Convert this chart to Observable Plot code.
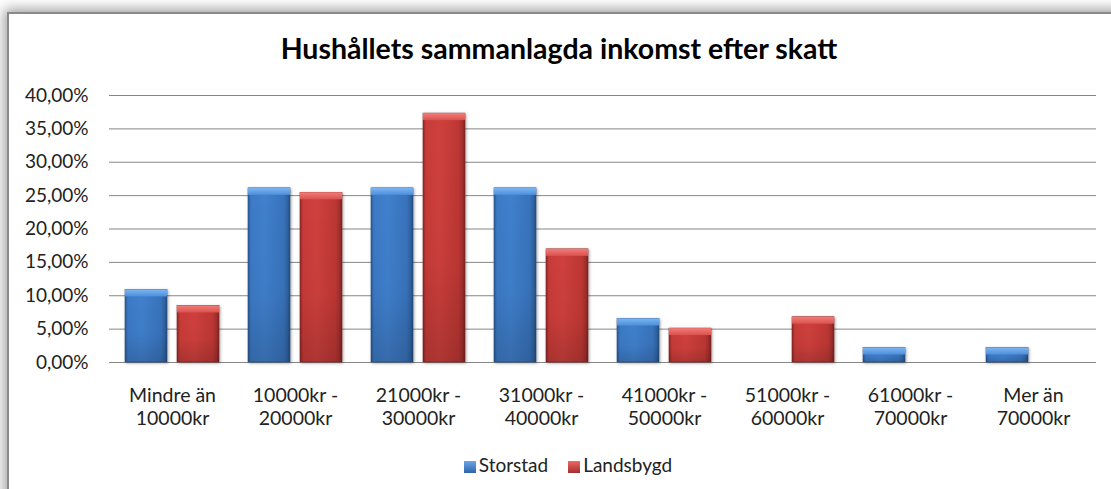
<!DOCTYPE html>
<html>
<head>
<meta charset="utf-8">
<script src="https://cdn.jsdelivr.net/npm/d3@7"></script>
<script src="https://cdn.jsdelivr.net/npm/@observablehq/plot@0.6"></script>
<style>
  html, body { margin: 0; padding: 0; width: 1111px; height: 489px; overflow: hidden; background: #ffffff; }
  #frame { position: absolute; left: 7px; top: 12px; width: 1130px; height: 500px; background: #fff;
           border-left: 2px solid #8a8a8a; border-top: 2px solid #8a8a8a;
           box-shadow: 0 0 12px 3px rgba(0,0,0,0.38); }
  #title { position: absolute; left: 0; top: 31px; width: 1118px; text-align: center;
           font-family: Lato, "Open Sans", sans-serif; font-weight: 700; font-size: 28.5px; color: #000; }
  #chart { position: absolute; left: 0; top: 80px; }
  #legend { position: absolute; left: 0; top: 453px; width: 1136px; text-align: center;
            font-family: Lato, "Open Sans", sans-serif; font-size: 19px; color: #222; }
  .item { display: inline-block; margin: 0 10px; }
  .sw { display: inline-block; width: 12px; height: 12px; margin-right: 3px; vertical-align: -1px; }
</style>
</head>
<body>
<div id="frame"></div>
<div id="title">Hushållets sammanlagda inkomst efter skatt</div>
<div id="chart"></div>
<div id="legend"></div>
<script>
const categories = [
  "Mindre än\n10000kr", "10000kr -\n20000kr", "21000kr -\n30000kr", "31000kr -\n40000kr",
  "41000kr -\n50000kr", "51000kr -\n60000kr", "61000kr -\n70000kr", "Mer än\n70000kr"
];
const series = ["Storstad", "Landsbygd"];
const storstad = [10.87, 26.09, 26.09, 26.09, 6.52, 0, 2.17, 2.17];
const landsbygd = [8.47, 25.42, 37.29, 16.95, 5.08, 6.78, 0, 0];
const yTicks = [0, 5, 10, 15, 20, 25, 30, 35, 40];

const rows = [];
categories.forEach((c, i) => {
  rows.push({cat: c, series: series[0], value: storstad[i]});
  rows.push({cat: c, series: series[1], value: landsbygd[i]});
});
const blueRows = rows.filter(d => d.series === "Storstad" && d.value > 0);
const redRows = rows.filter(d => d.series === "Landsbygd" && d.value > 0);

const fmt = d => d.toFixed(2).replace(".", ",") + "%";

const plot = Plot.plot({
  width: 1111,
  height: 360,
  marginLeft: 109,
  marginRight: 15,
  marginTop: 15,
  marginBottom: 78,
  style: {fontFamily: "Lato, 'Open Sans', sans-serif", fontSize: "19px", color: "#222", background: "transparent"},
  x: {domain: categories, paddingInner: 0.238, paddingOuter: 0.119, label: null},
  y: {domain: [0, 40], label: null},
  marks: [
    Plot.gridY(yTicks, {stroke: "#868686", strokeOpacity: 1, strokeWidth: 1}),
    Plot.axisY(yTicks, {tickSize: 0, tickPadding: 21, tickFormat: fmt, fontSize: 19, fill: "#222", label: null}),
    Plot.axisX({tickSize: 0, tickPadding: 24, fontSize: 19.5, lineHeight: 1.15, fill: "#222", tickFormat: d => d, label: null}),
    Plot.barY(blueRows, {x: "cat", y: "value", insetRight: 52, fill: "url(#gBlue)", stroke: "#2a568c", strokeWidth: 0.6, className: "bars"}),
    Plot.barY(redRows, {x: "cat", y: "value", insetLeft: 52, fill: "url(#gRed)", stroke: "#8a2725", strokeWidth: 0.6, className: "bars"}),
    Plot.barY(blueRows, {x: "cat", y: "value", insetRight: 52, fill: "url(#shade)"}),
    Plot.barY(redRows, {x: "cat", y: "value", insetLeft: 52, fill: "url(#shade)"}),
    Plot.rect(blueRows, {x: "cat", y1: "value", y2: "value", insetRight: 52, insetBottom: -7, fill: "url(#tBlue)"}),
    Plot.rect(redRows, {x: "cat", y1: "value", y2: "value", insetLeft: 52, insetBottom: -7, fill: "url(#tRed)"})
  ]
});

const svg = d3.select(plot);
const defs = svg.insert("defs", ":first-child");
function grad(id, vertical, stops) {
  const g = defs.append("linearGradient").attr("id", id)
    .attr("x1", 0).attr("y1", 0).attr("x2", vertical ? 0 : 1).attr("y2", vertical ? 1 : 0);
  stops.forEach(([o, c, a]) => g.append("stop").attr("offset", o).attr("stop-color", c).attr("stop-opacity", a == null ? 1 : a));
}
grad("gBlue", false, [[0, "#2b5994"], [0.07, "#3c7ac6"], [0.4, "#4080cd"], [0.85, "#3873bc"], [0.94, "#2f64a2"], [1, "#244c7c"]]);
grad("gRed", false, [[0, "#8c2725"], [0.07, "#c83b38"], [0.4, "#cf403d"], [0.85, "#bd3734"], [0.94, "#a22f2d"], [1, "#7c2220"]]);
grad("shade", true, [[0, "#000", 0], [0.6, "#000", 0.03], [1, "#000", 0.16]]);
grad("tBlue", true, [[0, "#7ab6f3"], [1, "#4f8fda"]]);
grad("tRed", true, [[0, "#f27c78"], [1, "#da524e"]]);
svg.selectAll(".bars").style("filter", "drop-shadow(1px 1px 1.5px rgba(0,0,0,0.35))");

document.getElementById("chart").appendChild(plot);

const swatchBg = ["linear-gradient(#6aa6ea, #2f64a6)", "linear-gradient(#ec6a66, #a32e2c)"];
const legend = document.getElementById("legend");
series.forEach((s, i) => {
  const item = document.createElement("span");
  item.className = "item";
  const sw = document.createElement("span");
  sw.className = "sw";
  sw.style.background = swatchBg[i];
  item.appendChild(sw);
  item.appendChild(document.createTextNode(s));
  legend.appendChild(item);
});
</script>
</body>
</html>
